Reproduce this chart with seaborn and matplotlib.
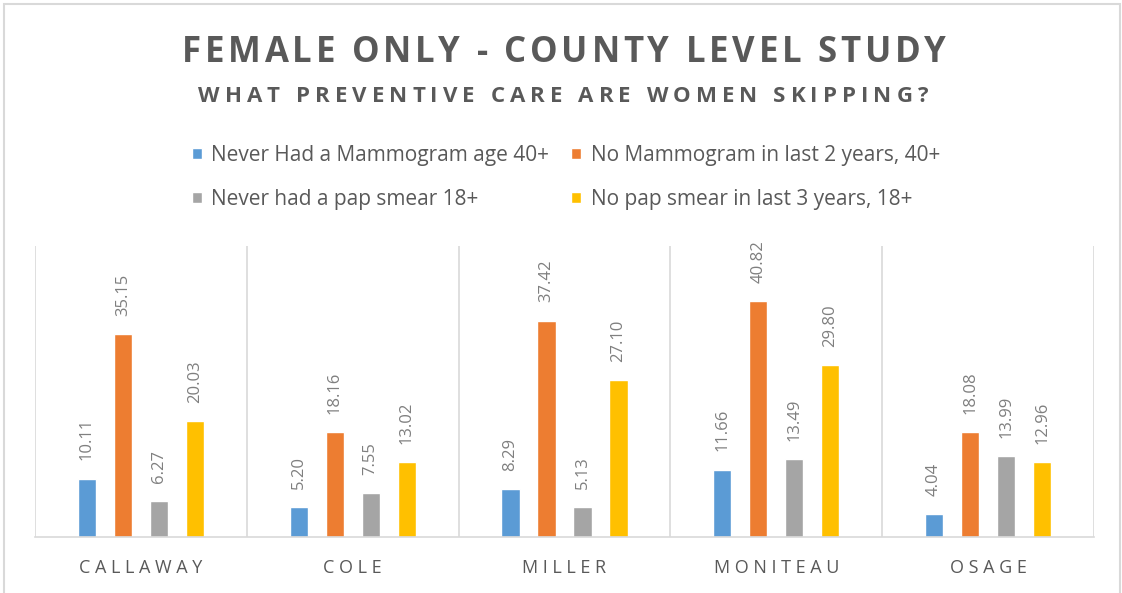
import matplotlib
matplotlib.use("Agg")
import matplotlib.pyplot as plt
from matplotlib.font_manager import FontProperties
from matplotlib.patches import Rectangle
import seaborn as sns
import pandas as pd

# ---- data -------------------------------------------------------------
counties = ["CALLAWAY", "COLE", "MILLER", "MONITEAU", "OSAGE"]
measures = [
    "Never Had a Mammogram age 40+",
    "No Mammogram in last 2 years, 40+",
    "Never had a pap smear 18+",
    "No pap smear in last 3 years, 18+",
]
never_mammogram = [10.11, 5.20, 8.29, 11.66, 4.04]
no_mammogram_2yr = [35.15, 18.16, 37.42, 40.82, 18.08]
never_pap = [6.27, 7.55, 5.13, 13.49, 13.99]
no_pap_3yr = [20.03, 13.02, 27.10, 29.80, 12.96]
colors = ["#5B9BD5", "#ED7D31", "#A5A5A5", "#FFC000"]

title = "FEMALE ONLY - COUNTY LEVEL STUDY"
subtitle = "WHAT PREVENTIVE CARE ARE WOMEN SKIPPING?"

series = [never_mammogram, no_mammogram_2yr, never_pap, no_pap_3yr]
df = pd.DataFrame(
    [(c, m, v) for m, vals in zip(measures, series) for c, v in zip(counties, vals)],
    columns=["county", "measure", "value"],
)

# ---- figure -----------------------------------------------------------
sns.set_theme(style="white")
plt.rcParams["font.family"] = ["Open Sans", "DejaVu Sans"]

W, H, DPI = 1122, 593, 100
fig = plt.figure(figsize=(W / DPI, H / DPI), dpi=DPI)
fig.patch.set_facecolor("white")

def px_box(left, top, right, bottom):
    return [left / W, 1 - bottom / H, (right - left) / W, (bottom - top) / H]

ax = fig.add_axes(px_box(35, 246, 1094, 537))
sns.barplot(
    data=df, x="county", y="value", hue="measure",
    order=counties, hue_order=measures, palette=colors,
    width=0.68, gap=0.49, saturation=1, ax=ax, legend=True,
)

text_grey = "#595959"
label_grey = "#7F7F7F"
line_grey = "#D9D9D9"

ax.set_ylim(0, 50.3)
ax.set_xlim(-0.5, len(counties) - 0.5)
ax.set_xlabel("")
ax.set_ylabel("")
ax.set_yticks([])
for side in ("top", "left", "right"):
    ax.spines[side].set_visible(False)
ax.spines["bottom"].set_color(line_grey)
ax.spines["bottom"].set_linewidth(1.2)
for xb in range(len(counties) + 1):
    ax.axvline(xb - 0.5, color=line_grey, lw=1.2, zorder=0)

ax.set_xticks(range(len(counties)))
ax.set_xticklabels([" ".join(c) for c in counties], fontsize=13, color=text_grey)
ax.tick_params(axis="x", length=0, pad=16)

for container, vals in zip(ax.containers, series):
    ax.bar_label(container, labels=[f"{v:.2f}" for v in vals], rotation=90,
                 padding=13, fontsize=12, color=label_grey)

# legend: two columns, blue/grey in the first, orange/yellow in the second
handles, labels = ax.get_legend_handles_labels()
ax.get_legend().remove()
order = [0, 2, 1, 3]
fig.legend([handles[i] for i in order], [labels[i] for i in order],
           ncol=2, loc="upper left", bbox_to_anchor=(192 / W, 1 - 145 / H),
           frameon=False, fontsize=15, labelcolor=text_grey,
           handlelength=0.48, handleheight=0.48, handletextpad=0.45,
           columnspacing=1.05, labelspacing=1.1, borderpad=0, borderaxespad=0)

# ---- tracked (letter-spaced) headings --------------------------------
renderer = fig.canvas.get_renderer()

def tracked_text(s, cx, baseline, size, weight, color, width):
    prop = FontProperties(family="Open Sans", weight=weight, size=size)
    ref, _, _ = renderer.get_text_width_height_descent("HH", prop, ismath=False)
    advs = []
    for ch in s:
        w, _, _ = renderer.get_text_width_height_descent("H" + ch + "H", prop, ismath=False)
        advs.append(w - ref)
    track = (width - sum(advs)) / (len(s) - 1)
    x = cx - width / 2
    for ch, a in zip(s, advs):
        if ch != " ":
            fig.text((x + a / 2) / W, 1 - baseline / H, ch, fontproperties=prop,
                     color=color, ha="center", va="baseline")
        x += a + track

tracked_text(title, 564, 62, 25, "bold", text_grey, 764)
tracked_text(subtitle, 563, 102, 16, "bold", text_grey, 730)

# outer chart border
fig.patches.append(Rectangle((4 / W, -0.01), 1116 / W, 1 - 4 / H + 0.01,
                             transform=fig.transFigure, fill=False,
                             edgecolor=line_grey, lw=1.5))

fig.savefig("out.png", dpi=DPI, facecolor="white")
